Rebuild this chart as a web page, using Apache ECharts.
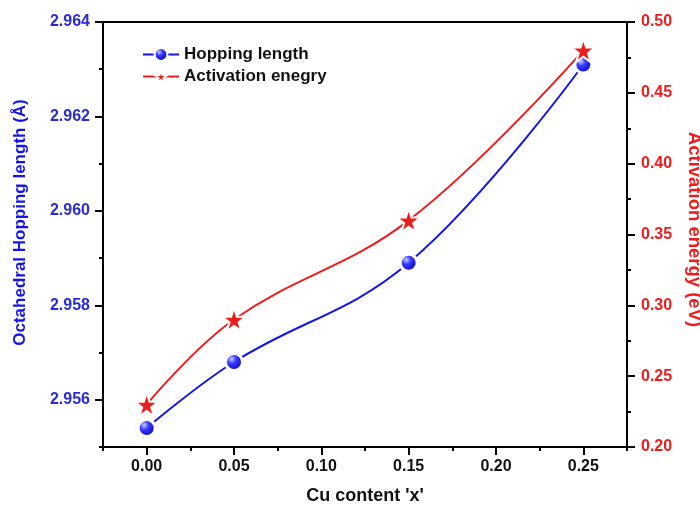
<!DOCTYPE html>
<html><head><meta charset="utf-8">
<script src="https://cdn.jsdelivr.net/npm/echarts@6/dist/echarts.min.js"></script>
<style>html,body{margin:0;padding:0;background:#fff}#c{width:700px;height:507px}</style>
</head><body><div id="c"></div>
<script>
var cuContent = [0.00, 0.05, 0.15, 0.25];
var hoppingLength = [2.9554, 2.9568, 2.9589, 2.9631];
var activationEnergy = [0.23, 0.29, 0.36, 0.48];
var xMajorTicks = [0.00, 0.05, 0.10, 0.15, 0.20, 0.25];
var xMinorTicks = [-0.025, 0.025, 0.075, 0.125, 0.175, 0.225, 0.275];
var leftMajorTicks = [2.956, 2.958, 2.960, 2.962, 2.964];
var leftMinorTicks = [2.955, 2.957, 2.959, 2.961, 2.963];
var rightMajorTicks = [0.20, 0.25, 0.30, 0.35, 0.40, 0.45, 0.50];
var rightMinorTicks = [0.225, 0.275, 0.325, 0.375, 0.425, 0.475];

var FONT = '"Liberation Sans", Arial, sans-serif';
var BLUE = '#1414e8', RED = '#ee1c1c';
var grid = {left: 103, right: 73, top: 22, bottom: 60, outerBoundsMode: 'none', containLabel: false,
  show: true, borderColor: '#000', borderWidth: 2, backgroundColor: '#fff'};

function minorAxis(base, ticks, pos) {
  return Object.assign({}, base, {
    position: pos, name: '',
    axisLine: {show: false, onZero: false},
    axisLabel: {show: false},
    axisTick: {show: true, customValues: ticks, length: 4, lineStyle: {color: '#000', width: 2}},
    splitLine: {show: false}
  });
}

var xBase = {type: 'value', min: -0.025, max: 0.275, gridIndex: 0};
var yLBase = {type: 'value', min: 2.955, max: 2.964, gridIndex: 0};
var yRBase = {type: 'value', min: 0.20, max: 0.50, gridIndex: 0};

var option = {
  animation: false,
  backgroundColor: '#fff',
  grid: grid,
  legend: {
    left: 137, top: 41, orient: 'vertical', itemGap: 5, itemWidth: 36, itemHeight: 16,
    textStyle: {fontFamily: FONT, fontWeight: 'bold', fontSize: 17, color: '#111'},
    data: ['Hopping length', 'Activation enegry']
  },
  xAxis: [
    Object.assign({}, xBase, {
      position: 'bottom',
      name: "Cu content 'x'", nameLocation: 'middle', nameGap: 40,
      nameTextStyle: {fontFamily: FONT, fontWeight: 'bold', fontSize: 18, color: '#111'},
      axisLine: {show: true, onZero: false, lineStyle: {color: '#000', width: 2}},
      axisTick: {show: true, customValues: xMajorTicks, length: 8, lineStyle: {color: '#000', width: 2}},
      axisLabel: {customValues: xMajorTicks, margin: 12, fontFamily: FONT, fontWeight: 'bold', fontSize: 16, color: '#111',
        formatter: function (v) { return v.toFixed(2); }},
      splitLine: {show: false}
    }),
    minorAxis(xBase, xMinorTicks, 'bottom')
  ],
  yAxis: [
    Object.assign({}, yLBase, {
      position: 'left',
      name: 'Octahedral Hopping length (Å)', nameLocation: 'middle', nameGap: 74, nameRotate: 90,
      nameTextStyle: {fontFamily: FONT, fontWeight: 'bold', fontSize: 17, color: BLUE, padding: [0, 0, 0, 24]},
      axisLine: {show: true, onZero: false, lineStyle: {color: '#000', width: 2}},
      axisTick: {show: true, customValues: leftMajorTicks, length: 8, lineStyle: {color: '#000', width: 2}},
      axisLabel: {customValues: leftMajorTicks, margin: 13, fontFamily: FONT, fontWeight: 'bold', fontSize: 16, color: '#2b2bd6',
        formatter: function (v) { return v.toFixed(3); }},
      splitLine: {show: false}
    }),
    Object.assign({}, yRBase, {
      position: 'right',
      name: 'Activation energy (eV)', nameLocation: 'middle', nameGap: 58, nameRotate: -90,
      nameTextStyle: {fontFamily: FONT, fontWeight: 'bold', fontSize: 18.5, color: RED, padding: [0, 10, 0, 0]},
      axisLine: {show: true, onZero: false, lineStyle: {color: '#000', width: 2}},
      axisTick: {show: true, customValues: rightMajorTicks, length: 8, lineStyle: {color: '#000', width: 2}},
      axisLabel: {customValues: rightMajorTicks, margin: 14, fontFamily: FONT, fontWeight: 'bold', fontSize: 16, color: RED,
        formatter: function (v) { return v.toFixed(2); }},
      splitLine: {show: false}
    }),
    minorAxis(yLBase, leftMinorTicks, 'left'),
    minorAxis(yRBase, rightMinorTicks, 'right')
  ],
  series: [
    {
      name: 'Hopping length', type: 'line', xAxisIndex: 0, yAxisIndex: 0,
      smooth: 0.4, symbol: 'circle', symbolSize: 17,
      lineStyle: {color: BLUE, width: 2},
      itemStyle: {
        color: {type: 'radial', x: 0.38, y: 0.35, r: 0.65, colorStops: [
          {offset: 0, color: '#c8ccff'}, {offset: 0.35, color: '#3a3aff'}, {offset: 1, color: '#0000c0'}]},
        borderColor: '#fff', borderWidth: 3
      },
      data: cuContent.map(function (x, i) { return [x, hoppingLength[i]]; }),
      z: 3
    },
    {
      name: 'Activation enegry', type: 'line', xAxisIndex: 0, yAxisIndex: 1,
      smooth: 0.4, symbol: 'path://M50,0 L61.8,36.2 L100,36.2 L69.1,58.8 L80.9,95.1 L50,72.7 L19.1,95.1 L30.9,58.8 L0,36.2 L38.2,36.2 Z',
      symbolSize: 24,
      lineStyle: {color: RED, width: 2},
      itemStyle: {color: RED, borderColor: '#fff', borderWidth: 2},
      data: cuContent.map(function (x, i) { return [x, activationEnergy[i]]; }),
      z: 4
    }
  ]
};
var chart = echarts.init(document.getElementById('c'), null, {renderer: 'canvas'});
chart.setOption(option);
</script>
</body></html>
